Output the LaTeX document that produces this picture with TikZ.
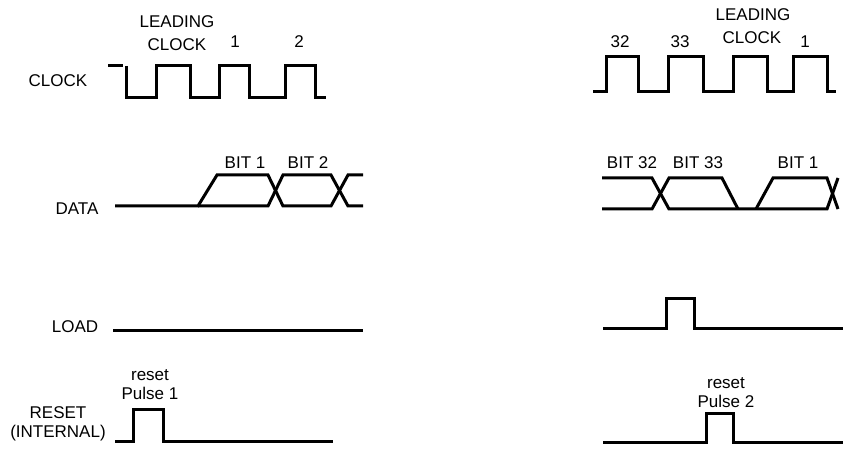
\documentclass[tikz,border=0pt]{standalone}
\usepackage{fontspec}
\setmainfont{Liberation Sans}
\tikzset{
  lbl/.style={inner sep=0pt, font=\fontsize{17}{20}\selectfont},
  wave/.style={line width=3pt, line join=miter, line cap=butt},
}
\begin{document}
\begin{tikzpicture}[x=1pt,y=-1pt]
\useasboundingbox[fill=white] (0,0) rectangle (846,449);
% labels
\node[lbl] (lead1) at (177,22) {LEADING};
\node[lbl] (lclk1) at (177,45) {CLOCK};
\node[lbl] (one1) at (235,42) {1};
\node[lbl] (two1) at (299,42) {2};
\node[lbl] (clk) at (58,81) {CLOCK};
\node[lbl] (n32) at (620,42) {32};
\node[lbl] (n33) at (680,42) {33};
\node[lbl] (lead2) at (753,15) {LEADING};
\node[lbl] (lclk2) at (752,38) {CLOCK};
\node[lbl] (one2) at (805,42) {1};
\node[lbl] (b1) at (245,163) {BIT 1};
\node[lbl] (b2) at (308,163) {BIT 2};
\node[lbl] (data) at (77,209) {DATA};
\node[lbl] (b32) at (632,163) {BIT 32};
\node[lbl] (b33) at (698,163) {BIT 33};
\node[lbl] (b1r) at (798,163) {BIT 1};
\node[lbl] (load) at (75,327) {LOAD};
\node[lbl] (rst) at (58,413) {RESET};
\node[lbl] (intl) at (58,433) {(INTERNAL)};
\node[lbl] (rs1) at (150,375) {reset};
\node[lbl] (p1) at (150,393) {Pulse 1};
\node[lbl] (rs2) at (726,383) {reset};
\node[lbl] (p2) at (726,401) {Pulse 2};
% clock left
\draw[wave] (108,66) -- (123,66);
\draw[wave] (126,66) -- (126,98) -- (156,98) -- (156,66) -- (190,66) -- (190,98)
  -- (219,98) -- (219,66) -- (249,66) -- (249,98) -- (285,98) -- (285,66)
  -- (315,66) -- (315,98) -- (326,98);
% clock right
\draw[wave] (593,92) -- (606,92) -- (606,57) -- (638,57) -- (638,92) -- (668,92)
  -- (668,57) -- (703,57) -- (703,92) -- (733,92) -- (733,57) -- (767,57)
  -- (767,92) -- (793,92) -- (793,57) -- (827,57) -- (827,92) -- (836,92);
% data left
\draw[wave] (115,206) -- (198,206) -- (217,175) -- (268,175) -- (283,206)
  -- (331,206) -- (348,175) -- (363,175);
\draw[wave] (198,206) -- (268,206) -- (283,175) -- (331,175) -- (348,206) -- (363,206);
% data right
\draw[wave] (602,178) -- (652,178) -- (669,209) -- (827,209) -- (838,178);
\draw[wave] (602,209) -- (652,209) -- (669,178) -- (722,178) -- (738,209);
\draw[wave] (756,209) -- (773,178) -- (827,178) -- (838,209);
% load
\draw[wave] (113,330) -- (363,330);
\draw[wave] (603,328) -- (666,328) -- (666,298) -- (694,298) -- (694,328) -- (843,328);
% reset
\draw[wave] (115,441) -- (133,441) -- (133,409) -- (163,409) -- (163,441) -- (333,441);
\draw[wave] (603,442) -- (706,442) -- (706,413) -- (733,413) -- (733,442) -- (843,442);
\end{tikzpicture}
\end{document}
